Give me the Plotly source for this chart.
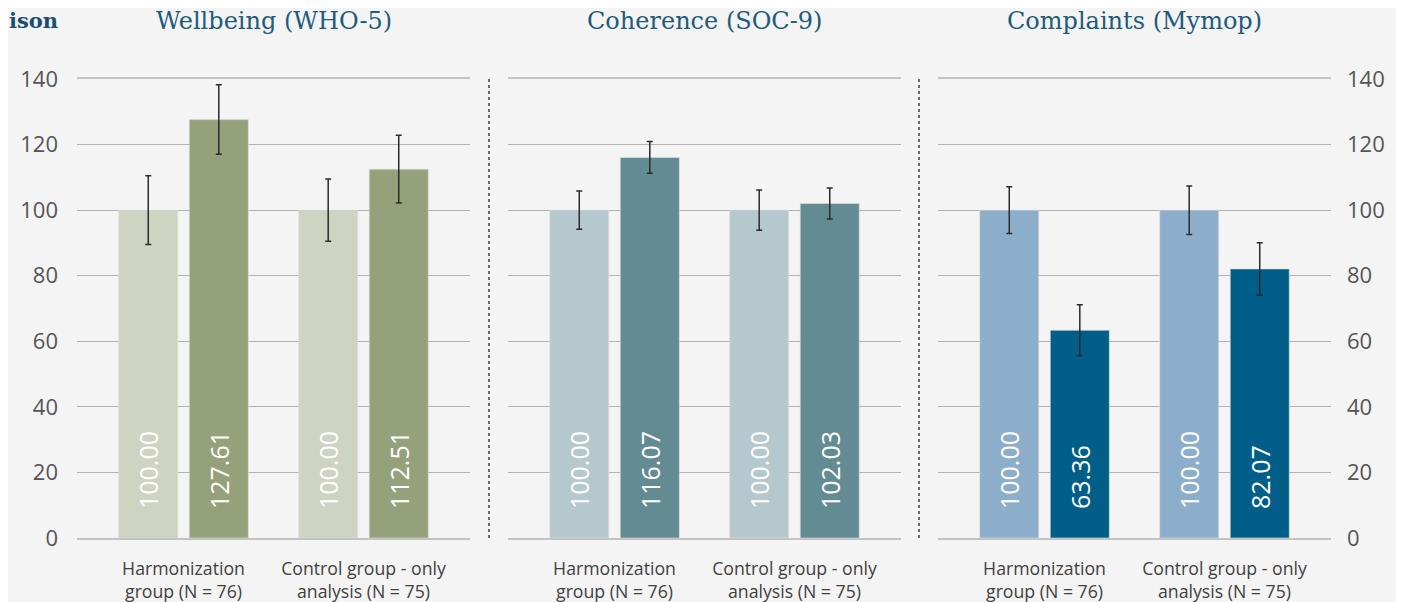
import plotly.graph_objects as go

# ---- data ----
categories = ["Harmonization<br>group (N = 76)", "Control group - only<br>analysis (N = 75)"]
panel_titles = ["Wellbeing (WHO-5)", "Coherence (SOC-9)", "Complaints (Mymop)"]
corner_title = "ison"  # visible tail of the cropped left-hand heading

wellbeing_pre = [100.00, 100.00]
wellbeing_post = [127.61, 112.51]
wellbeing_pre_err = [10.5, 9.5]
wellbeing_post_err = [10.6, 10.3]

coherence_pre = [100.00, 100.00]
coherence_post = [116.07, 102.03]
coherence_pre_err = [5.85, 6.15]
coherence_post_err = [4.85, 4.7]

complaints_pre = [100.00, 100.00]
complaints_post = [63.36, 82.07]
complaints_pre_err = [7.1, 7.4]
complaints_post_err = [7.8, 8.0]

y_ticks = [0, 20, 40, 60, 80, 100, 120, 140]

# ---- styling ----
OFF = 8  # page body margin
W, H = 1404 - OFF, 602 - OFF
BG = "#f4f4f4"
colors = [("#cfd3c1", "#94a17b"), ("#b5c8cd", "#638b93"), ("#8daeca", "#005e89")]
panels_px = [(77, 470), (508, 901), (938, 1331)]
y_bottom_px, y_top_px = 538, 79


def px(X):
    return (X - OFF) / W


def py(Y):
    return 1 - (Y - OFF) / H


series = [
    (wellbeing_pre, wellbeing_post, wellbeing_pre_err, wellbeing_post_err),
    (coherence_pre, coherence_post, coherence_pre_err, coherence_post_err),
    (complaints_pre, complaints_post, complaints_pre_err, complaints_post_err),
]

fig = go.Figure()
NB = "\u00a0" * 4

for i, (pre, post, pre_e, post_e) in enumerate(series):
    xa = "x" if i == 0 else f"x{i+1}"
    ya = "y" if i == 0 else f"y{i+1}"
    for vals, errs, col, name in [(pre, pre_e, colors[i][0], "Pre"), (post, post_e, colors[i][1], "Post")]:
        fig.add_trace(go.Bar(
            x=categories, y=vals, name=name, xaxis=xa, yaxis=ya,
            marker=dict(color=col, line=dict(color="rgba(225,225,225,0.6)", width=1)),
            error_y=dict(type="data", array=errs, visible=True, color="#2b2b2b", thickness=1.5, width=3),
            texttemplate=NB + "%{y:.2f}", textposition="inside", insidetextanchor="start",
            textangle=-90, constraintext="none",
            textfont=dict(family="Open Sans", size=25, color="white"),
            showlegend=False, hoverinfo="skip",
        ))

yd = [py(y_bottom_px), py(y_top_px)]
layout = dict(
    width=W, height=H, autosize=False, paper_bgcolor=BG, plot_bgcolor=BG,
    margin=dict(l=0, r=0, t=0, b=0, pad=0),
    barmode="group", bargap=0.216, bargroupgap=0.163,
    font=dict(family="Open Sans", color="#595959"),
)
for i, (x0, x1) in enumerate(panels_px):
    sfx = "" if i == 0 else str(i + 1)
    layout["xaxis" + sfx] = dict(
        domain=[px(x0), px(x1)], anchor="y" + sfx, type="category",
        range=[-0.592, 1.592], showgrid=False, zeroline=False, automargin=False,
        showline=True, mirror=True, linecolor="#c3c3c3", linewidth=2,
        ticks="", ticklabelstandoff=14,
        tickfont=dict(family="Open Sans", size=17.7, color="#404040"),
    )
    layout["yaxis" + sfx] = dict(
        domain=yd, anchor="x" + sfx, range=[0, 140], tickvals=y_ticks,
        showgrid=True, gridcolor="#b2b2b2", gridwidth=1, zeroline=False,
        showline=False, ticks="", automargin=False,
        showticklabels=(i != 1), side="right" if i == 2 else "left",
        ticklabelstandoff=18 if i == 0 else 15,
        tickfont=dict(family="Open Sans", size=22, color="#555555"),
    )
fig.update_layout(**layout)

# panel titles
for i, (x0, x1) in enumerate(panels_px):
    fig.add_annotation(
        text=panel_titles[i], xref="paper", yref="paper",
        x=px((x0 + x1) / 2), y=py(21), xanchor="center", yanchor="middle",
        showarrow=False, font=dict(family="DejaVu Serif", size=24, color="#215b7c"),
    )
fig.add_annotation(
    text="<b>" + corner_title + "</b>", xref="paper", yref="paper",
    x=0, y=py(21), xanchor="left", yanchor="middle", borderpad=0,
    showarrow=False, font=dict(family="DejaVu Serif", size=21, color="#1b4f6f"),
)

# dotted separators
for sx in [489, 919]:
    fig.add_shape(type="line", xref="paper", yref="paper",
                  x0=px(sx), x1=px(sx), y0=yd[0], y1=yd[1],
                  line=dict(color="#3a3a3a", width=1.5, dash="dot"))

fig.write_html("out.html")
